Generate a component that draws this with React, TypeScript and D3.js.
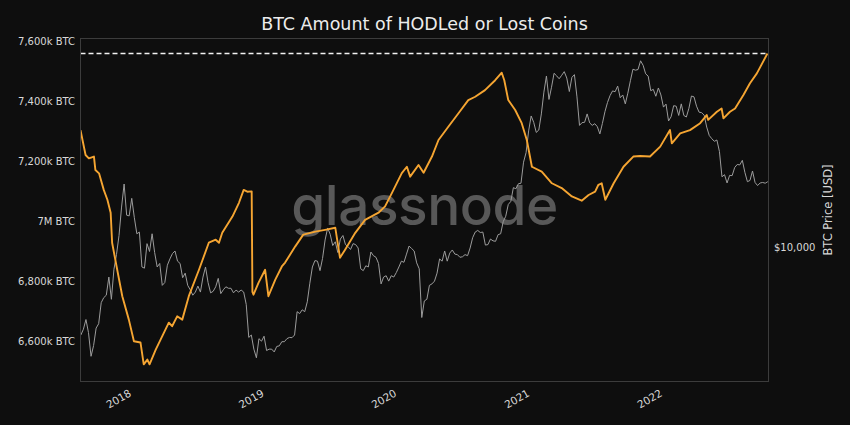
import React from "react";
import * as d3 from "d3";

// ---------- DATA ----------
const titleText = "BTC Amount of HODLed or Lost Coins";
const leftTicks = [6600, 6800, 7000, 7200, 7400, 7600];
const leftTickLabels = ["6,600k BTC", "6,800k BTC", "7M BTC", "7,200k BTC", "7,400k BTC", "7,600k BTC"];
const rightTicks = [10000];
const rightTickLabels = ["$10,000"];
const yearTicks = ["2018-01-01", "2019-01-01", "2020-01-01", "2021-01-01", "2022-01-01"];
const yearLabels = ["2018", "2019", "2020", "2021", "2022"];
const xDomain = ["2017-08-19", "2022-10-25"];

// HODLed or lost coins (k BTC)
const hodlDates = [
  "2017-08-19", "2017-09-02", "2017-09-11", "2017-09-25", "2017-09-29", "2017-10-09", "2017-10-22", "2017-11-01",
  "2017-11-10", "2017-11-14", "2017-11-28", "2017-12-12", "2017-12-30", "2018-01-13", "2018-01-31", "2018-02-09",
  "2018-02-19", "2018-02-25", "2018-03-14", "2018-04-01", "2018-04-19", "2018-04-28", "2018-05-12", "2018-05-26",
  "2018-06-13", "2018-07-11", "2018-08-07", "2018-08-26", "2018-09-04", "2018-09-13", "2018-10-11", "2018-10-29",
  "2018-11-11", "2018-11-21", "2018-12-03", "2018-12-05", "2018-12-08", "2018-12-22", "2019-01-09", "2019-01-18",
  "2019-02-06", "2019-02-24", "2019-03-05", "2019-04-02", "2019-04-24", "2019-05-27", "2019-06-23", "2019-07-21",
  "2019-08-03", "2019-08-17", "2019-09-14", "2019-10-11", "2019-11-17", "2019-12-05", "2019-12-24", "2020-01-20",
  "2020-02-03", "2020-02-12", "2020-03-06", "2020-03-20", "2020-04-12", "2020-04-30", "2020-05-27", "2020-06-24",
  "2020-07-21", "2020-08-09", "2020-09-05", "2020-10-03", "2020-10-21", "2020-10-28", "2020-11-08", "2020-11-27",
  "2020-12-15", "2020-12-29", "2021-01-12", "2021-02-08", "2021-03-08", "2021-04-04", "2021-05-02", "2021-05-29",
  "2021-06-17", "2021-07-05", "2021-07-14", "2021-07-23", "2021-08-02", "2021-08-25", "2021-09-21", "2021-10-18",
  "2021-11-06", "2021-12-03", "2021-12-31", "2022-01-27", "2022-02-01", "2022-02-24", "2022-03-23", "2022-04-20",
  "2022-05-08", "2022-05-12", "2022-06-05", "2022-06-18", "2022-06-23", "2022-07-11", "2022-07-25", "2022-08-17",
  "2022-09-04", "2022-09-23", "2022-10-22",
];
const hodlValues = [
  7304, 7221, 7210, 7216, 7171, 7160, 7105, 7072,
  7029, 6929, 6839, 6751, 6673, 6601, 6597, 6524,
  6540, 6524, 6573, 6618, 6663, 6651, 6684, 6673,
  6751, 6839, 6929, 6939, 6929, 6962, 7016, 7062,
  7105, 7099, 7100, 6765, 6756, 6796, 6839, 6751,
  6806, 6850, 6863, 6917, 6956, 6966, 6972, 6979,
  6879, 6906, 6962, 7005, 7029, 7050, 7095, 7161,
  7182, 7149, 7188, 7162, 7216, 7271, 7315, 7360,
  7404, 7415, 7437, 7470, 7495, 7470, 7404, 7371,
  7327, 7271, 7182, 7166, 7127, 7111, 7083, 7069,
  7088, 7099, 7122, 7127, 7072, 7127, 7182, 7216,
  7218, 7216, 7249, 7304, 7260, 7293, 7304, 7327,
  7354, 7338, 7365, 7376, 7343, 7365, 7376, 7421,
  7460, 7493, 7559,
];

// BTC price (USD), weekly, one array per year with its first week
const price2017Start = "2017-08-20";
const price2017 = [4100, 4350, 4800, 4200, 3300, 3680, 4400, 4600, 5700, 6000, 6150, 7400, 5900, 8000, 9300, 11300, 15100, 19100, 13900, 13800];
const price2018Start = "2018-01-07";
const price2018 = [16500, 13600, 11500, 11700, 8200, 8100, 10400, 9600, 11500, 9500, 8200, 8500, 6800, 7000, 8350, 8900, 9400, 9650, 8700, 8500, 7350, 7700, 6800, 6500, 6150, 6350, 6750, 6350, 7400, 8200, 7000, 6300, 6400, 6700, 7300, 6250, 6500, 6700, 6600, 6600, 6300, 6480, 6350, 6480, 6350, 5600, 4000, 4100, 3550, 3250, 3950, 3850];
const price2019Start = "2019-01-06";
const price2019 = [4050, 3500, 3550, 3550, 3450, 3650, 3670, 3830, 3830, 3950, 4000, 3990, 4100, 5200, 5100, 5300, 5200, 5750, 6950, 8200, 8750, 8700, 7900, 8950, 10800, 12200, 11450, 10200, 10600, 9500, 10900, 11300, 10300, 10100, 9800, 10400, 10300, 9950, 8050, 7900, 8300, 8200, 9550, 9200, 9050, 8500, 6900, 7400, 7500, 7100, 7500, 7400];
const price2020Start = "2020-01-05";
const price2020 = [7750, 8200, 8700, 8600, 9350, 10150, 9900, 9650, 8550, 8050, 4900, 5800, 5900, 6800, 6900, 7100, 7700, 8900, 8700, 9650, 8700, 9450, 9750, 9350, 9300, 9050, 9100, 9300, 9200, 9950, 11050, 11700, 11900, 11650, 11700, 10250, 10300, 10900, 10700, 10650, 11400, 11500, 13000, 13750, 15500, 16000, 18400, 18200, 19150, 19250, 23850, 26300];
const price2021Start = "2021-01-03";
const price2021 = [32800, 38200, 35800, 32300, 33100, 39000, 48700, 57400, 45200, 51200, 59000, 57500, 55800, 57800, 60000, 56200, 49000, 56600, 58200, 46400, 34700, 35700, 35800, 39000, 35600, 34700, 35300, 34250, 31800, 35400, 39900, 43800, 47000, 49300, 48900, 51800, 46000, 47300, 43200, 48200, 54700, 61500, 60900, 61300, 67000, 64000, 58700, 57300, 49400, 50100, 46700, 50800];
const price2022Start = "2022-01-02";
const price2022 = [47300, 41800, 43100, 36300, 37900, 42400, 42200, 38400, 43200, 38400, 37800, 41300, 46800, 46400, 42200, 39700, 39500, 38500, 34100, 31300, 30300, 29500, 29900, 26600, 20550, 21000, 19300, 20850, 20800, 22600, 23300, 23200, 24300, 21500, 19550, 19800, 21800, 19400, 18800, 19300, 19400, 19250, 19550];

// ---------- LAYOUT ----------
const W = 850;
const H = 425;
const PL = 80.5, PR = 768.5, PT = 38.5, PB = 381.5;
const FONT = "DejaVu Sans, sans-serif";

const parse = d3.utcParse("%Y-%m-%d");

function weekly(start: string, vals: number[]) {
  const s = parse(start) as Date;
  return vals.map((v, i) => ({ d: d3.utcDay.offset(s, 7 * i), v }));
}

export default function App() {
  const x = d3.scaleUtc().domain(xDomain.map((s) => parse(s) as Date)).range([PL, PR]);
  const yL = d3.scaleLinear().domain([6467, 7609]).range([PB, PT]);
  const yR = d3.scaleLog().domain([2553, 84100]).range([PB, PT]);

  const hodl = hodlDates.map((s, i) => ({ d: parse(s) as Date, v: hodlValues[i] }));
  const price = [
    ...weekly(price2017Start, price2017),
    ...weekly(price2018Start, price2018),
    ...weekly(price2019Start, price2019),
    ...weekly(price2020Start, price2020),
    ...weekly(price2021Start, price2021),
    ...weekly(price2022Start, price2022),
  ];

  const hodlLine = d3.line<{ d: Date; v: number }>().x((p) => x(p.d)).y((p) => yL(p.v));
  const priceLine = d3.line<{ d: Date; v: number }>().x((p) => x(p.d)).y((p) => yR(p.v));
  const maxV = d3.max(hodlValues) as number;

  return (
    <svg
      width={W}
      height={H}
      style={{ position: "absolute", left: 0, top: 0, display: "block" }}
      fontFamily={FONT}
    >
      <defs>
        <clipPath id="plotClip">
          <rect x={PL} y={PT} width={PR - PL} height={PB - PT} />
        </clipPath>
      </defs>
      <rect x={0} y={0} width={W} height={H} fill="#0e0e0e" />
      <text x={(PL + PR) / 2} y={30} textAnchor="middle" fontSize={17.5} fill="#ececec">
        {titleText}
      </text>

      {/* watermark */}
      <text
        x={424.5}
        y={225}
        textAnchor="middle"
        fontSize={55}
        fontFamily="Inter, sans-serif"
        fontWeight={500}
        fill="#585858"
        letterSpacing={-0.5}
      >
        glassnode
      </text>

      <g clipPath="url(#plotClip)">
        <path d={priceLine(price) ?? ""} fill="none" stroke="#9c9c9c" strokeWidth={1} strokeLinejoin="round" />
        <path d={hodlLine(hodl) ?? ""} fill="none" stroke="#f5a532" strokeWidth={1.9} strokeLinejoin="round" />
        <line x1={PL} x2={PR} y1={yL(maxV)} y2={yL(maxV)} stroke="#f2f2f2" strokeWidth={1.3} strokeDasharray="5,3" />
      </g>

      <rect x={PL} y={PT} width={PR - PL} height={PB - PT} fill="none" stroke="#3c3c3c" strokeWidth={1} />

      {leftTicks.map((t, i) => (
        <text key={t} x={75} y={yL(t)} textAnchor="end" dominantBaseline="central" fontSize={10} fill="#d8d8d8">
          {leftTickLabels[i]}
        </text>
      ))}
      {rightTicks.map((t, i) => (
        <text key={t} x={774} y={yR(t)} textAnchor="start" dominantBaseline="central" fontSize={10} fill="#d8d8d8">
          {rightTickLabels[i]}
        </text>
      ))}
      <text
        transform={`translate(828,${(PT + PB) / 2}) rotate(-90)`}
        textAnchor="middle"
        dominantBaseline="central"
        fontSize={11.5}
        fill="#d8d8d8"
      >
        BTC Price [USD]
      </text>
      {yearTicks.map((t, i) => (
        <text
          key={t}
          transform={`translate(${x(parse(t) as Date) - 1.5},${PB + 7}) rotate(-30)`}
          textAnchor="end"
          dominantBaseline="hanging"
          fontSize={10.5}
          fill="#d8d8d8"
        >
          {yearLabels[i]}
        </text>
      ))}
    </svg>
  );
}
